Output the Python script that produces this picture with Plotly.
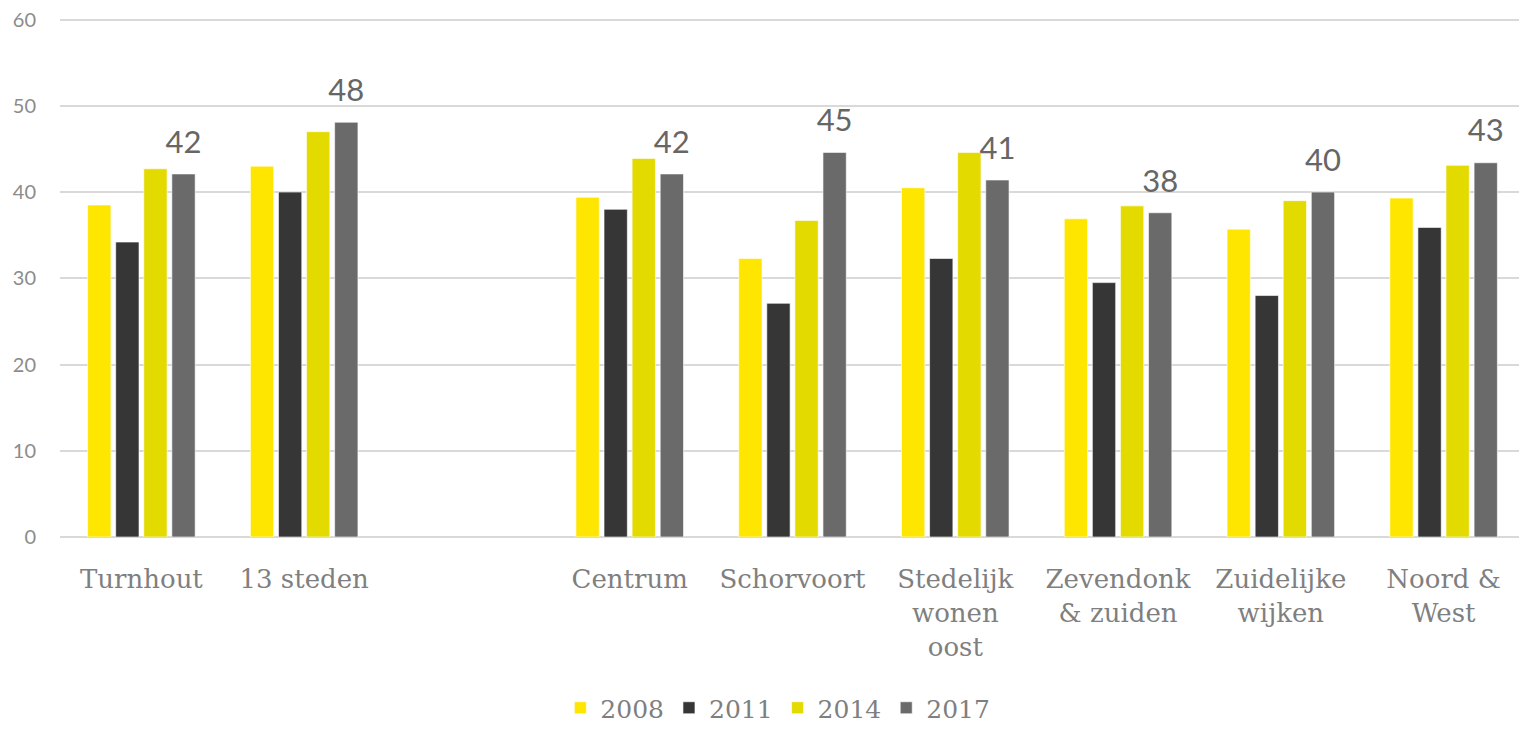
import plotly.graph_objects as go

# categories (the blank one keeps the gap after "13 steden")
CATEGORIES = [
  "Turnhout",
  "13 steden",
  " ",
  "Centrum",
  "Schorvoort",
  "Stedelijk<br>wonen<br>oost",
  "Zevendonk<br>& zuiden",
  "Zuidelijke<br>wijken",
  "Noord &<br>West",
]
YEARS = ["2008", "2011", "2014", "2017"]

V_2008 = [38.5, 43.0, None, 39.4, 32.3, 40.5, 36.9, 35.7, 39.3]
V_2011 = [34.2, 40.0, None, 38.0, 27.1, 32.3, 29.5, 28.0, 35.9]
V_2014 = [42.7, 47.0, None, 43.9, 36.7, 44.6, 38.4, 39.0, 43.1]
V_2017 = [42.1, 48.1, None, 42.1, 44.6, 41.4, 37.6, 40.0, 43.4]

Y_TICKS = [0, 10, 20, 30, 40, 50, 60]

COLORS = ["#FFE600", "#363636", "#E3DA00", "#6A6A6A"]
SLAB = "DejaVu Serif"
SANS = "Lato, Open Sans, sans-serif"

fig = go.Figure()
for year, values, color in zip(YEARS, [V_2008, V_2011, V_2014, V_2017], COLORS):
  fig.add_trace(
    go.Bar(
      x=CATEGORIES,
      y=values,
      name=year,
      offsetgroup=year,
      alignmentgroup="years",
      marker=dict(color=color, line=dict(color="rgba(255,255,255,0.6)", width=1)),
      hoverinfo="x+y+name",
    )
  )

# value labels above the 2017 bars (invisible marker only pads the text upwards)
fig.add_trace(
  go.Scatter(
    x=CATEGORIES,
    y=V_2017,
    mode="markers+text",
    marker=dict(size=20, color="rgba(0,0,0,0)"),
    text=[f"{v:.0f}" if v is not None else "" for v in V_2017],
    textposition="top center",
    textfont=dict(family=SANS, size=31, color="#666666"),
    offsetgroup="2017",
    alignmentgroup="years",
    showlegend=False,
    hoverinfo="skip",
    cliponaxis=False,
  )
)

fig.update_layout(
  width=1519,
  height=723,
  barmode="group",
  scattermode="group",
  bargap=0.31,
  bargroupgap=0.17,
  plot_bgcolor="white",
  paper_bgcolor="white",
  margin=dict(l=52, r=2, t=9, b=194),
  showlegend=True,
  legend=dict(
    orientation="h",
    x=0.49,
    xanchor="center",
    yref="container",
    y=-0.006,
    yanchor="bottom",
    font=dict(family=SLAB, size=25, color="#7F7F7F"),
    itemwidth=30,
    traceorder="normal",
  ),
  xaxis=dict(
    type="category",
    categoryorder="array",
    categoryarray=CATEGORIES,
    tickfont=dict(family=SLAB, size=26, color="#7F7F7F"),
    ticks="",
    showgrid=False,
    showline=False,
    ticklabelstandoff=24,
    tickangle=0,
    automargin=False,
  ),
  yaxis=dict(
    range=[0, 60.3],
    tickvals=Y_TICKS,
    tickfont=dict(family=SANS, size=20, color="#8C8C8C"),
    gridcolor="#D9D9D9",
    gridwidth=1.5,
    zeroline=True,
    zerolinecolor="#D9D9D9",
    zerolinewidth=1.5,
    showline=False,
    ticks="",
    ticklabelstandoff=23,
    ticklabeloverflow="allow",
    automargin=False,
  ),
)

fig.write_html("out.html")
